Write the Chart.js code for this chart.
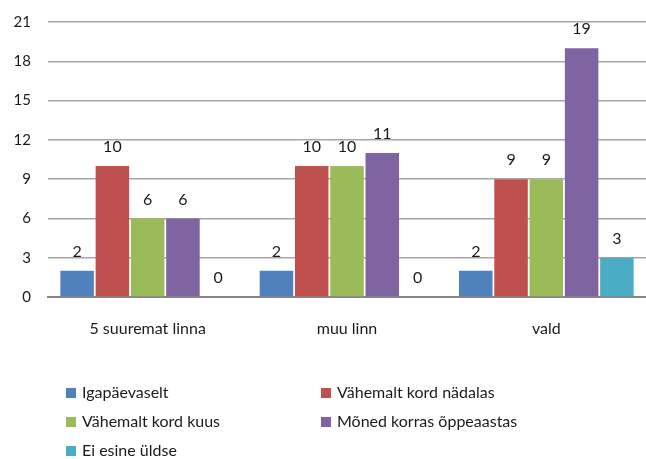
<!DOCTYPE html>
<html>
<head>
<meta charset="utf-8">
<script src="https://cdn.jsdelivr.net/npm/chart.js@4"></script>
<style>
  html, body { margin: 0; padding: 0; background: #fff; }
  #wrap { width: 646px; height: 459px; position: relative; }
</style>
</head>
<body>
<div id="wrap"><canvas id="chart"></canvas></div>
<script>
// andmed
const categories = ['5 suuremat linna', 'muu linn', 'vald'];
const seriesNames = ['Igapäevaselt', 'Vähemalt kord nädalas', 'Vähemalt kord kuus', 'Mõned korras õppeaastas', 'Ei esine üldse'];
const igapaevaselt = [2, 2, 2];
const nadalas = [10, 10, 9];
const kuus = [6, 10, 9];
const oppeaastas = [6, 11, 19];
const eiEsine = [0, 0, 3];
const yTicks = [0, 3, 6, 9, 12, 15, 18, 21];
const colors = ['#4F81BD', '#C0504D', '#9BBB59', '#8064A2', '#4BACC6'];

const FONT = 'Lato, "Open Sans", sans-serif';

const allValues = [igapaevaselt, nadalas, kuus, oppeaastas, eiEsine];
const datasets = allValues.map((vals, i) => ({
    label: seriesNames[i],
    data: vals,
    backgroundColor: colors[i],
    borderWidth: 0,
    barPercentage: 0.95,
    categoryPercentage: 0.885
}));

// väärtused tulpade kohal
const valueLabels = {
    id: 'valueLabels',
    afterDatasetsDraw(chart) {
        const ctx = chart.ctx;
        ctx.save();
        ctx.font = '16px ' + FONT;
        ctx.fillStyle = '#1a1a1a';
        ctx.textAlign = 'center';
        ctx.textBaseline = 'middle';
        chart.data.datasets.forEach((ds, i) => {
            chart.getDatasetMeta(i).data.forEach((bar, j) => {
                ctx.fillText(String(ds.data[j]), bar.x, bar.y - 19);
            });
        });
        ctx.restore();
    }
};

// legend kahes veerus
const twoColLegend = {
    id: 'twoColLegend',
    afterDraw(chart) {
        const ctx = chart.ctx;
        ctx.save();
        ctx.font = '16px ' + FONT;
        ctx.textBaseline = 'middle';
        ctx.textAlign = 'left';
        const colX = [66, 321];
        const rowY = [393, 422, 451];
        chart.data.datasets.forEach((ds, i) => {
            const x = colX[i % 2];
            const y = rowY[Math.floor(i / 2)];
            ctx.fillStyle = ds.backgroundColor;
            ctx.fillRect(x, y - 5, 10, 10);
            ctx.fillStyle = '#1a1a1a';
            ctx.fillText(ds.label, x + 16, y);
        });
        ctx.restore();
    }
};

new Chart(document.getElementById('chart'), {
    type: 'bar',
    data: { labels: categories, datasets: datasets },
    options: {
        responsive: true,
        maintainAspectRatio: false,
        animation: false,
        layout: { padding: { top: 22, right: 0, left: 0, bottom: 0 } },
        plugins: {
            legend: { display: false },
            tooltip: { enabled: false }
        },
        scales: {
            x: {
                afterFit: (s) => { s.height = 162; s.paddingLeft = 0; s.paddingRight = 0; },
                grid: { display: false, drawTicks: false },
                border: { display: true, color: '#868686', width: 2 },
                ticks: { color: '#1a1a1a', font: { size: 16, family: FONT }, padding: 22 }
            },
            y: {
                min: 0,
                max: 21,
                afterFit: (s) => { s.width = 48; s.paddingTop = 0; s.paddingBottom = 0; },
                afterBuildTicks: (s) => { s.ticks = yTicks.map(v => ({ value: v })); },
                grid: { color: '#a6a6a6', lineWidth: 1.5, drawTicks: false },
                border: { display: false },
                ticks: { color: '#1a1a1a', font: { size: 15, family: FONT }, padding: 17 }
            }
        }
    },
    plugins: [valueLabels, twoColLegend]
});
</script>
</body>
</html>
